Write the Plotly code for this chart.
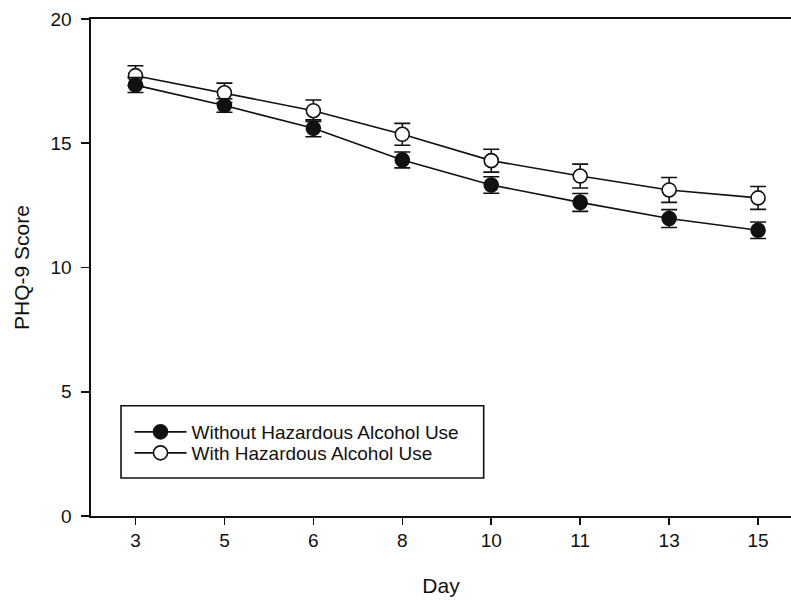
import plotly.graph_objects as go

days = ["3", "5", "6", "8", "10", "11", "13", "15"]
without_mean = [17.34, 16.52, 15.60, 14.33, 13.32, 12.62, 11.97, 11.50]
without_err = [0.30, 0.27, 0.34, 0.32, 0.33, 0.36, 0.36, 0.33]
with_mean = [17.72, 17.03, 16.31, 15.36, 14.30, 13.68, 13.12, 12.80]
with_err = [0.40, 0.39, 0.43, 0.44, 0.46, 0.48, 0.50, 0.46]

FONT = "Liberation Sans, Arial, sans-serif"
INK = "#111111"

fig = go.Figure()
fig.add_trace(go.Scatter(
    x=days, y=with_mean, name="With Hazardous Alcohol Use",
    mode="lines+markers", legend="legend2",
    line=dict(color=INK, width=1.6),
    marker=dict(symbol="circle", size=14, color="white", line=dict(color=INK, width=1.6)),
    error_y=dict(type="data", array=with_err, visible=True, color=INK, thickness=1.6, width=8),
))
fig.add_trace(go.Scatter(
    x=days, y=without_mean, name="Without Hazardous Alcohol Use",
    mode="lines+markers", legend="legend",
    line=dict(color=INK, width=1.6),
    marker=dict(symbol="circle", size=14, color=INK, line=dict(color=INK, width=1.6)),
    error_y=dict(type="data", array=without_err, visible=True, color=INK, thickness=1.6, width=8),
))

# legend frame
fig.add_shape(type="rect", xref="paper", yref="paper",
              x0=0.0429, x1=0.561, y0=0.0765, y1=0.2219,
              line=dict(color=INK, width=1.6), fillcolor="rgba(0,0,0,0)", layer="above")

legend_common = dict(
    xanchor="left", yanchor="middle", bgcolor="rgba(0,0,0,0)", borderwidth=0,
    font=dict(family=FONT, size=19, color=INK), itemwidth=52,
)

fig.update_layout(
    width=791, height=601,
    margin=dict(l=91, r=0, t=19, b=85, autoexpand=False),
    paper_bgcolor="white", plot_bgcolor="white",
    font=dict(family=FONT, color=INK, size=19),
    showlegend=True,
    hovermode=False,
    legend=dict(x=0.055, y=0.169, **legend_common),
    legend2=dict(x=0.055, y=0.1268, **legend_common),
    xaxis=dict(
        type="category", categoryorder="array", categoryarray=days,
        range=[-0.5, 7.37], automargin=False,
        showgrid=False, zeroline=False,
        showline=True, linecolor=INK, linewidth=1.6, mirror=True,
        ticks="outside", ticklen=7, tickwidth=1.6, tickcolor=INK,
        tickfont=dict(family=FONT, size=19, color=INK),
        title=dict(text="Day", font=dict(family=FONT, size=21, color=INK), standoff=28),
    ),
    yaxis=dict(
        range=[0, 20], tickvals=[0, 5, 10, 15, 20], automargin=False,
        showgrid=False, zeroline=False,
        showline=True, linecolor=INK, linewidth=1.6, mirror=False,
        ticks="outside", ticklen=8, tickwidth=1.6, tickcolor=INK,
        ticklabelstandoff=6,
        tickfont=dict(family=FONT, size=19, color=INK),
        title=dict(text="PHQ-9 Score", font=dict(family=FONT, size=21, color=INK), standoff=15),
    ),
)

fig.write_html(
    "out.html",
    config={"displayModeBar": False, "staticPlot": True},
    post_script="document.body.style.margin='0';document.body.style.overflow='hidden';",
)
